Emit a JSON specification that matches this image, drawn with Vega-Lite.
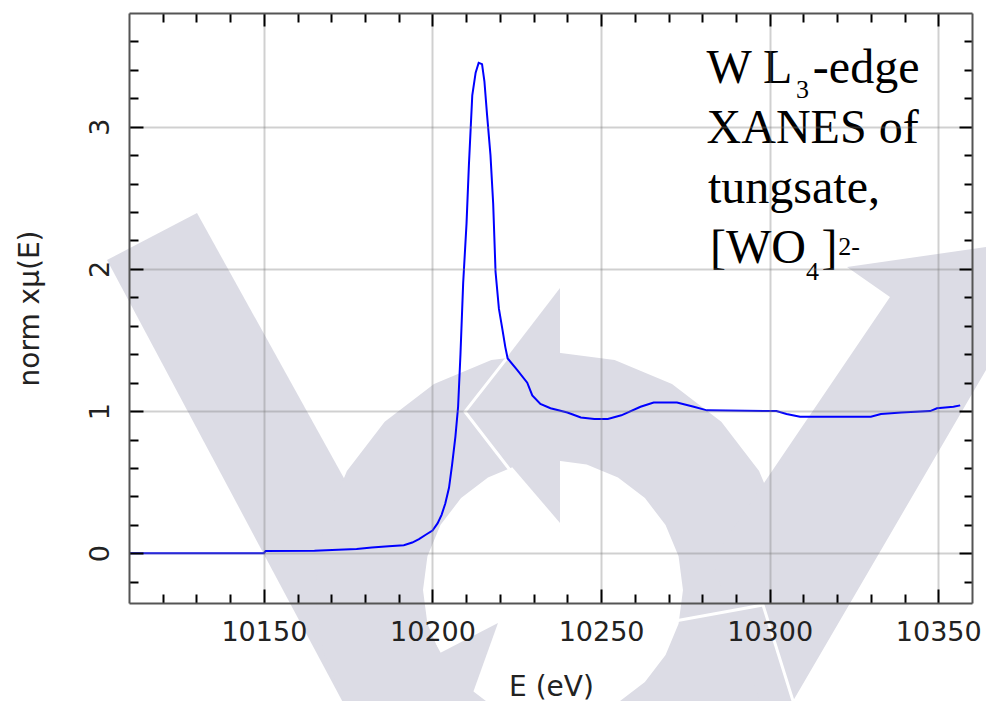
{
  "$schema": "https://vega.github.io/schema/vega-lite/v6.json",
  "width": 843,
  "height": 590,
  "autosize": {"type": "none"},
  "padding": {"left": 129, "top": 13, "right": 14, "bottom": 98},
  "background": "white",
  "config": {
    "view": {"stroke": null},
    "axis": {
      "domain": true,
      "domainColor": "#555555",
      "domainWidth": 2,
      "tickColor": "#000000",
      "tickWidth": 2,
      "labelFont": "DejaVu Sans",
      "labelFontSize": 27,
      "labelFontWeight": "normal",
      "labelColor": "#222222",
      "titleFont": "DejaVu Sans",
      "titleFontSize": 28,
      "titleFontWeight": "normal",
      "titleColor": "#222222"
    }
  },
  "datasets": {
    "curve": [
      {"E": 10110, "mu": 0.0}, {"E": 10150, "mu": 0.0}, {"E": 10150.5, "mu": 0.015},
      {"E": 10165, "mu": 0.018}, {"E": 10172, "mu": 0.024}, {"E": 10177.5, "mu": 0.03},
      {"E": 10182, "mu": 0.04}, {"E": 10187, "mu": 0.05}, {"E": 10191.5, "mu": 0.057},
      {"E": 10194, "mu": 0.075}, {"E": 10196, "mu": 0.1}, {"E": 10198, "mu": 0.13},
      {"E": 10200, "mu": 0.16}, {"E": 10201.5, "mu": 0.21}, {"E": 10202.7, "mu": 0.27},
      {"E": 10203.8, "mu": 0.35}, {"E": 10204.9, "mu": 0.46}, {"E": 10205.8, "mu": 0.62},
      {"E": 10206.8, "mu": 0.82}, {"E": 10207.6, "mu": 1.03}, {"E": 10208.3, "mu": 1.4},
      {"E": 10209.1, "mu": 1.9}, {"E": 10210.1, "mu": 2.32}, {"E": 10210.8, "mu": 2.73},
      {"E": 10211.8, "mu": 3.22}, {"E": 10212.8, "mu": 3.38}, {"E": 10213.7, "mu": 3.45},
      {"E": 10214.7, "mu": 3.44}, {"E": 10215.4, "mu": 3.32}, {"E": 10216.2, "mu": 3.08},
      {"E": 10217.2, "mu": 2.8}, {"E": 10218.0, "mu": 2.46}, {"E": 10218.7, "mu": 1.98},
      {"E": 10219.7, "mu": 1.72}, {"E": 10220.7, "mu": 1.58}, {"E": 10221.6, "mu": 1.45},
      {"E": 10222.3, "mu": 1.37}, {"E": 10225.1, "mu": 1.29}, {"E": 10228.1, "mu": 1.2},
      {"E": 10229.6, "mu": 1.11}, {"E": 10232.0, "mu": 1.05}, {"E": 10235.0, "mu": 1.02},
      {"E": 10240.0, "mu": 0.99}, {"E": 10244.0, "mu": 0.955}, {"E": 10248.0, "mu": 0.945},
      {"E": 10252.0, "mu": 0.945}, {"E": 10256.0, "mu": 0.97}, {"E": 10261.7, "mu": 1.03},
      {"E": 10265.6, "mu": 1.06}, {"E": 10272.5, "mu": 1.06}, {"E": 10277.5, "mu": 1.03},
      {"E": 10281.4, "mu": 1.005}, {"E": 10302.0, "mu": 1.0}, {"E": 10305.0, "mu": 0.98},
      {"E": 10309.0, "mu": 0.96}, {"E": 10330.0, "mu": 0.96}, {"E": 10333.0, "mu": 0.98},
      {"E": 10339.0, "mu": 0.99}, {"E": 10347.6, "mu": 1.0}, {"E": 10349.6, "mu": 1.02},
      {"E": 10354.5, "mu": 1.03}, {"E": 10356.5, "mu": 1.04}
    ],
    "logo": [
      {"s": "leftarm", "i": 0, "E": 10103.48, "v": 2.0626},
      {"s": "leftarm", "i": 1, "E": 10130.17, "v": 2.3932},
      {"s": "leftarm", "i": 2, "E": 10216.76, "v": -1.3136},
      {"s": "leftarm", "i": 3, "E": 10179.39, "v": -1.3136},
      {"s": "ring", "i": 0, "E": 10306.32, "v": -0.2585},
      {"s": "ring", "i": 1, "E": 10303.91, "v": 0.1748},
      {"s": "ring", "i": 2, "E": 10296.86, "v": 0.5786},
      {"s": "ring", "i": 3, "E": 10285.65, "v": 0.9253},
      {"s": "ring", "i": 4, "E": 10271.03, "v": 1.1913},
      {"s": "ring", "i": 5, "E": 10254.01, "v": 1.3585},
      {"s": "ring", "i": 6, "E": 10235.74, "v": 1.4156},
      {"s": "ring", "i": 7, "E": 10217.47, "v": 1.3585},
      {"s": "ring", "i": 8, "E": 10200.45, "v": 1.1913},
      {"s": "ring", "i": 9, "E": 10185.83, "v": 0.9253},
      {"s": "ring", "i": 10, "E": 10174.62, "v": 0.5786},
      {"s": "ring", "i": 11, "E": 10167.57, "v": 0.1748},
      {"s": "ring", "i": 12, "E": 10165.16, "v": -0.2585},
      {"s": "ring", "i": 13, "E": 10167.57, "v": -0.6918},
      {"s": "ring", "i": 14, "E": 10174.62, "v": -1.0956},
      {"s": "ring", "i": 15, "E": 10185.83, "v": -1.4423},
      {"s": "ring", "i": 16, "E": 10200.45, "v": -1.7083},
      {"s": "ring", "i": 17, "E": 10217.47, "v": -1.8755},
      {"s": "ring", "i": 18, "E": 10235.74, "v": -1.9326},
      {"s": "ring", "i": 19, "E": 10254.01, "v": -1.8755},
      {"s": "ring", "i": 20, "E": 10271.03, "v": -1.7083},
      {"s": "ring", "i": 21, "E": 10285.65, "v": -1.4423},
      {"s": "ring", "i": 22, "E": 10296.86, "v": -1.0956},
      {"s": "ring", "i": 23, "E": 10303.91, "v": -0.6918},
      {"s": "ring", "i": 24, "E": 10306.32, "v": -0.2585},
      {"s": "ring", "i": 25, "E": 10274.29, "v": -0.2585},
      {"s": "ring", "i": 26, "E": 10272.98, "v": -0.4952},
      {"s": "ring", "i": 27, "E": 10269.12, "v": -0.7157},
      {"s": "ring", "i": 28, "E": 10263.00, "v": -0.9051},
      {"s": "ring", "i": 29, "E": 10255.02, "v": -1.0504},
      {"s": "ring", "i": 30, "E": 10245.72, "v": -1.1417},
      {"s": "ring", "i": 31, "E": 10235.74, "v": -1.1729},
      {"s": "ring", "i": 32, "E": 10225.76, "v": -1.1417},
      {"s": "ring", "i": 33, "E": 10216.46, "v": -1.0504},
      {"s": "ring", "i": 34, "E": 10208.48, "v": -0.9051},
      {"s": "ring", "i": 35, "E": 10202.36, "v": -0.7157},
      {"s": "ring", "i": 36, "E": 10198.50, "v": -0.4952},
      {"s": "ring", "i": 37, "E": 10197.19, "v": -0.2585},
      {"s": "ring", "i": 38, "E": 10198.50, "v": -0.0218},
      {"s": "ring", "i": 39, "E": 10202.36, "v": 0.1987},
      {"s": "ring", "i": 40, "E": 10208.48, "v": 0.3881},
      {"s": "ring", "i": 41, "E": 10216.46, "v": 0.5334},
      {"s": "ring", "i": 42, "E": 10225.76, "v": 0.6247},
      {"s": "ring", "i": 43, "E": 10235.74, "v": 0.6559},
      {"s": "ring", "i": 44, "E": 10245.72, "v": 0.6247},
      {"s": "ring", "i": 45, "E": 10255.02, "v": 0.5334},
      {"s": "ring", "i": 46, "E": 10263.00, "v": 0.3881},
      {"s": "ring", "i": 47, "E": 10269.12, "v": 0.1987},
      {"s": "ring", "i": 48, "E": 10272.98, "v": -0.0218},
      {"s": "ring", "i": 49, "E": 10274.29, "v": -0.2585},
      {"s": "arrowhead", "i": 0, "E": 10237.82, "v": 1.8657},
      {"s": "arrowhead", "i": 1, "E": 10209.64, "v": 0.9935},
      {"s": "arrowhead", "i": 2, "E": 10237.82, "v": 0.2128},
      {"s": "tail", "i": 0, "E": 10199.26, "v": -0.7509},
      {"s": "tail", "i": 1, "E": 10202.23, "v": -0.7017},
      {"s": "tail", "i": 2, "E": 10219.43, "v": -0.4906},
      {"s": "tail", "i": 3, "E": 10211.13, "v": -1.0393},
      {"s": "tail", "i": 4, "E": 10199.26, "v": -1.0393},
      {"s": "rightarm", "i": 0, "E": 10322.93, "v": 2.0134},
      {"s": "rightarm", "i": 1, "E": 10368.30, "v": 2.1681},
      {"s": "rightarm", "i": 2, "E": 10368.30, "v": 1.4577},
      {"s": "rightarm", "i": 3, "E": 10306.92, "v": -1.0393},
      {"s": "rightarm", "i": 4, "E": 10297.13, "v": -1.0393},
      {"s": "rightarm", "i": 5, "E": 10282.89, "v": -0.0475},
      {"s": "rightarm", "i": 6, "E": 10299.50, "v": 0.5363},
      {"s": "rightarm", "i": 7, "E": 10335.68, "v": 1.8024}
    ],
    "gaps": [
      {"s": "g1", "i": 0, "E": 10222.01, "v": 1.3712},
      {"s": "g1", "i": 1, "E": 10209.64, "v": 0.9956},
      {"s": "g1", "i": 2, "E": 10222.99, "v": 0.5855},
      {"s": "g2", "i": 0, "E": 10265.40, "v": -0.5047},
      {"s": "g2", "i": 1, "E": 10298.02, "v": -0.3640},
      {"s": "g2", "i": 2, "E": 10306.92, "v": -1.0393}
    ],
    "label": [
      {"E": 10281.3, "v": 3.3076, "t": "W L"},
      {"E": 10312.8, "v": 3.3076, "t": "-edge"},
      {"E": 10281.3, "v": 2.8856, "t": "XANES of"},
      {"E": 10281.7, "v": 2.4636, "t": "tungsate,"},
      {"E": 10282.3, "v": 2.0415, "t": "[WO"},
      {"E": 10315.4, "v": 2.0415, "t": "]"}
    ],
    "scripts": [
      {"E": 10307.8, "v": 3.2, "t": "3"},
      {"E": 10310.77, "v": 1.922, "t": "4"},
      {"E": 10320.3, "v": 2.0978, "t": "2-"}
    ]
  },
  "resolve": {"axis": {"x": "independent", "y": "independent"}},
  "layer": [
    {
      "data": {"name": "logo"},
      "mark": {"type": "line", "fill": "#dcdce5", "stroke": null, "strokeWidth": 0, "clip": false},
      "encoding": {
        "x": {"field": "E", "type": "quantitative", "scale": {"domain": [10110, 10360], "nice": false, "zero": false}, "axis": null},
        "y": {"field": "v", "type": "quantitative", "scale": {"domain": [-0.35, 3.8], "nice": false, "zero": false}, "axis": null},
        "detail": {"field": "s"},
        "order": {"field": "i", "type": "quantitative"}
      }
    },
    {
      "data": {"name": "gaps"},
      "mark": {"type": "line", "stroke": "#ffffff", "strokeWidth": 3, "clip": false},
      "encoding": {
        "x": {"field": "E", "type": "quantitative", "axis": null},
        "y": {"field": "v", "type": "quantitative", "axis": null},
        "detail": {"field": "s"},
        "order": {"field": "i", "type": "quantitative"}
      }
    },
    {
      "data": {"name": "curve"},
      "mark": {"type": "line", "stroke": "#0000ff", "strokeWidth": 2, "clip": false},
      "encoding": {
        "x": {
          "field": "E", "type": "quantitative",
          "axis": {
            "orient": "bottom",
            "zindex": 1,
            "values": [10120,10130,10140,10150,10160,10170,10180,10190,10200,10210,10220,10230,10240,10250,10260,10270,10280,10290,10300,10310,10320,10330,10340,10350],
            "format": "d",
            "labelExpr": "datum.value % 50 === 0 ? datum.label : ''",
            "tickSize": {"condition": {"test": "datum.value % 50 === 0", "value": -14}, "value": -9},
            "grid": true,
            "gridColor": "#777777",
            "gridWidth": 2,
            "gridOpacity": {"condition": {"test": "datum.value % 50 === 0", "value": 0.35}, "value": 0},
            "labelPadding": 30,
            "labelFlush": false,
            "labelOverlap": false,
            "title": "E (eV)",
            "titleBaseline": "alphabetic",
            "titleAlign": "center",
            "titleX": 422,
            "titleY": 92
          }
        },
        "y": {
          "field": "mu", "type": "quantitative",
          "axis": {
            "orient": "left",
            "zindex": 1,
            "values": [-0.2,0,0.2,0.4,0.6,0.8,1,1.2,1.4,1.6,1.8,2,2.2,2.4,2.6,2.8,3,3.2,3.4,3.6],
            "labelExpr": "abs(datum.value - round(datum.value)) < 0.001 ? format(datum.value, 'd') : ''",
            "tickSize": {"condition": {"test": "abs(datum.value - round(datum.value)) < 0.001", "value": -14}, "value": -9},
            "grid": true,
            "gridColor": "#777777",
            "gridWidth": 2,
            "gridOpacity": {"condition": {"test": "abs(datum.value - round(datum.value)) < 0.001", "value": 0.35}, "value": 0},
            "labelAngle": -90,
            "labelAlign": "center",
            "labelBaseline": "alphabetic",
            "labelPadding": 35,
            "labelFlush": false,
            "labelOverlap": false,
            "title": "norm xμ(E)",
            "titleAngle": 270,
            "titleAlign": "center",
            "titleBaseline": "alphabetic",
            "titleX": -91,
            "titleY": 295
          }
        }
      }
    },
    {
      "data": {"name": "label"},
      "mark": {"type": "text", "font": "Liberation Serif", "fontSize": 48, "align": "left", "baseline": "alphabetic", "color": "#000000"},
      "encoding": {
        "x": {
          "field": "E", "type": "quantitative",
          "axis": {
            "orient": "top",
            "zindex": 1,
            "values": [10120,10130,10140,10150,10160,10170,10180,10190,10200,10210,10220,10230,10240,10250,10260,10270,10280,10290,10300,10310,10320,10330,10340,10350],
            "labels": false,
            "grid": false,
            "tickSize": {"condition": {"test": "datum.value % 50 === 0", "value": -13}, "value": -9},
            "title": null
          }
        },
        "y": {
          "field": "v", "type": "quantitative",
          "axis": {
            "orient": "right",
            "zindex": 1,
            "values": [-0.2,0,0.2,0.4,0.6,0.8,1,1.2,1.4,1.6,1.8,2,2.2,2.4,2.6,2.8,3,3.2,3.4,3.6],
            "labels": false,
            "grid": false,
            "tickSize": {"condition": {"test": "abs(datum.value - round(datum.value)) < 0.001", "value": -13}, "value": -8},
            "title": null
          }
        },
        "text": {"field": "t"}
      }
    },
    {
      "data": {"name": "scripts"},
      "mark": {"type": "text", "font": "Liberation Serif", "fontSize": 26, "align": "left", "baseline": "alphabetic", "color": "#000000"},
      "encoding": {
        "x": {"field": "E", "type": "quantitative", "axis": null},
        "y": {"field": "v", "type": "quantitative", "axis": null},
        "text": {"field": "t"}
      }
    }
  ]
}
